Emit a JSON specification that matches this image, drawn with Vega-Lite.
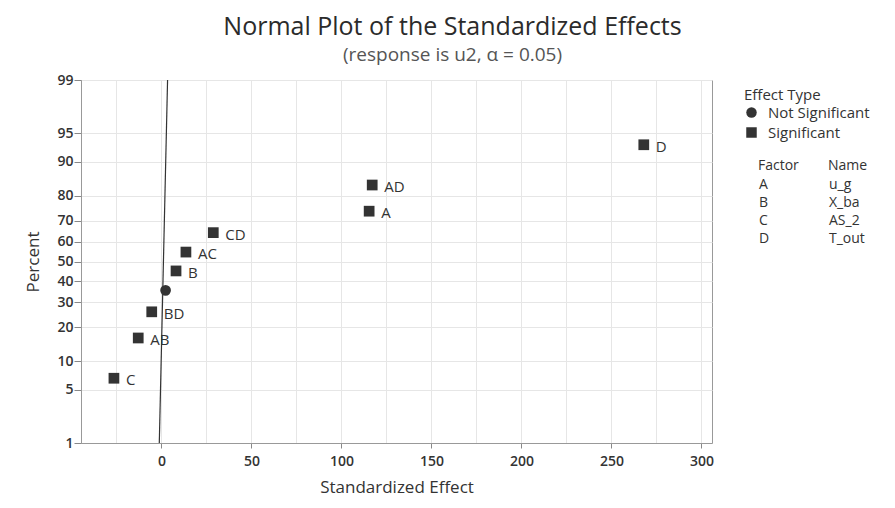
{
  "$schema": "https://vega.github.io/schema/vega-lite/v6.json",
  "width": 631,
  "height": 363,
  "autosize": {"type": "none"},
  "padding": {"left": 81, "top": 80, "right": 183, "bottom": 65},
  "background": "white",
  "title": {
    "text": "Normal Plot of the Standardized Effects",
    "subtitle": "(response is u2, α = 0.05)",
    "anchor": "middle",
    "dx": 56,
    "font": "Open Sans",
    "fontSize": 25,
    "fontWeight": "normal",
    "color": "#2b2b2b",
    "subtitleFont": "Open Sans",
    "subtitleFontSize": 19,
    "subtitleColor": "#555555",
    "subtitlePadding": 6,
    "offset": 8
  },
  "config": {
    "view": {"stroke": "#999999", "strokeWidth": 1},
    "axis": {
      "domainColor": "#999999",
      "tickColor": "#888888",
      "gridColor": "#e6e6e6",
      "labelColor": "#333333",
      "labelFont": "Open Sans",
      "labelFontSize": 14,
      "labelFontWeight": 600,
      "labelOverlap": false,
      "titleFont": "Open Sans",
      "titleFontSize": 17,
      "titleFontWeight": "normal",
      "titleColor": "#333333"
    },
    "legend": {
      "titleFont": "Open Sans",
      "titleFontSize": 15,
      "titleFontWeight": "normal",
      "titleColor": "#333333",
      "labelFont": "Open Sans",
      "labelFontSize": 15,
      "labelColor": "#333333",
      "padding": 0
    }
  },
  "datasets": {
    "effects": [
      {"term": "C", "effect": -26.4, "score": -1.4963, "type": "Significant"},
      {"term": "AB", "effect": -12.9, "score": -0.9803, "type": "Significant"},
      {"term": "BD", "effect": -5.4, "score": -0.6449, "type": "Significant"},
      {"term": "BC", "effect": 2.3, "score": -0.3699, "type": "Not Significant"},
      {"term": "B", "effect": 8.1, "score": -0.1208, "type": "Significant"},
      {"term": "AC", "effect": 13.6, "score": 0.1208, "type": "Significant"},
      {"term": "CD", "effect": 28.8, "score": 0.3699, "type": "Significant"},
      {"term": "A", "effect": 115.4, "score": 0.6449, "type": "Significant"},
      {"term": "AD", "effect": 117.1, "score": 0.9803, "type": "Significant"},
      {"term": "D", "effect": 268, "score": 1.4963, "type": "Significant"}
    ],
    "refline": [
      {"effect": -1.2, "score": -2.3263},
      {"effect": 3.4, "score": 2.3263}
    ],
    "factors": [
      {"factor": "A", "name": "u_g"},
      {"factor": "B", "name": "X_ba"},
      {"factor": "C", "name": "AS_2"},
      {"factor": "D", "name": "T_out"}
    ]
  },
  "layer": [
    {
      "data": {"name": "refline"},
      "mark": {"type": "line", "color": "#333333", "strokeWidth": 1.2},
      "encoding": {
        "x": {"field": "effect", "type": "quantitative"},
        "y": {"field": "score", "type": "quantitative"}
      }
    },
    {
      "data": {"name": "effects"},
      "mark": {"type": "point", "filled": true, "size": 115, "color": "#333333", "opacity": 1},
      "encoding": {
        "x": {
          "field": "effect",
          "type": "quantitative",
          "scale": {"domain": [-44.7, 305.9], "nice": false, "zero": false},
          "axis": {
            "title": "Standardized Effect",
            "values": [-25, 0, 25, 50, 75, 100, 125, 150, 175, 200, 225, 250, 275, 300],
            "tickCount": 30,
            "labelExpr": "datum.value % 50 == 0 ? datum.label : ''",
            "tickOpacity": {"expr": "datum.value % 50 == 0 ? 1 : 0"},
            "tickSize": 5,
            "labelPadding": 6,
            "titlePadding": 11,
            "grid": true
          }
        },
        "y": {
          "field": "score",
          "type": "quantitative",
          "scale": {"domain": [-2.3263, 2.3263], "nice": false, "zero": false},
          "axis": {
            "title": "Percent",
            "values": [-2.3263, -1.6449, -1.2816, -0.8416, -0.5244, -0.2533, 0, 0.2533, 0.5244, 0.8416, 1.2816, 1.6449, 2.3263],
            "tickCount": 30,
            "labelExpr": "format(cumulativeNormal(datum.value) * 100, '.0f')",
            "tickSize": 7,
            "labelPadding": 1,
            "titlePadding": 14,
            "grid": true
          }
        },
        "shape": {
          "field": "type",
          "type": "nominal",
          "scale": {"domain": ["Not Significant", "Significant"], "range": ["circle", "square"]},
          "legend": {
            "title": "Effect Type",
            "orient": "none",
            "legendX": 663,
            "legendY": 8,
            "symbolSize": 110,
            "symbolFillColor": "#333333",
            "symbolStrokeColor": "#333333",
            "symbolStrokeWidth": 0,
            "rowPadding": 4,
            "titlePadding": 2,
            "labelOffset": 9
          }
        }
      }
    },
    {
      "data": {"name": "effects"},
      "transform": [{"filter": "datum.type == 'Significant'"}],
      "mark": {"type": "text", "align": "left", "baseline": "middle", "dx": 12, "dy": 2, "font": "Open Sans", "fontSize": 15, "color": "#333333"},
      "encoding": {
        "x": {"field": "effect", "type": "quantitative"},
        "y": {"field": "score", "type": "quantitative"},
        "text": {"field": "term", "type": "nominal"}
      }
    },
    {
      "data": {"name": "factors"},
      "mark": {"type": "point", "opacity": 0},
      "encoding": {
        "fill": {
          "field": "factor",
          "type": "nominal",
          "sort": null,
          "legend": {
            "title": "Factor",
            "orient": "none",
            "legendX": 677,
            "legendY": 79,
            "titleFontSize": 14,
            "labelFontSize": 14,
            "symbolSize": 0,
            "symbolOpacity": 0,
            "symbolStrokeWidth": 0,
            "labelOffset": -13,
            "labelAlign": "left",
            "rowPadding": 4,
            "titlePadding": 5
          }
        },
        "stroke": {
          "field": "name",
          "type": "nominal",
          "sort": null,
          "legend": {
            "title": "Name",
            "orient": "none",
            "legendX": 747,
            "legendY": 79,
            "titleFontSize": 14,
            "labelFontSize": 14,
            "symbolSize": 0,
            "symbolOpacity": 0,
            "symbolStrokeWidth": 0,
            "labelOffset": -13,
            "labelAlign": "left",
            "rowPadding": 4,
            "titlePadding": 5
          }
        }
      }
    }
  ]
}
